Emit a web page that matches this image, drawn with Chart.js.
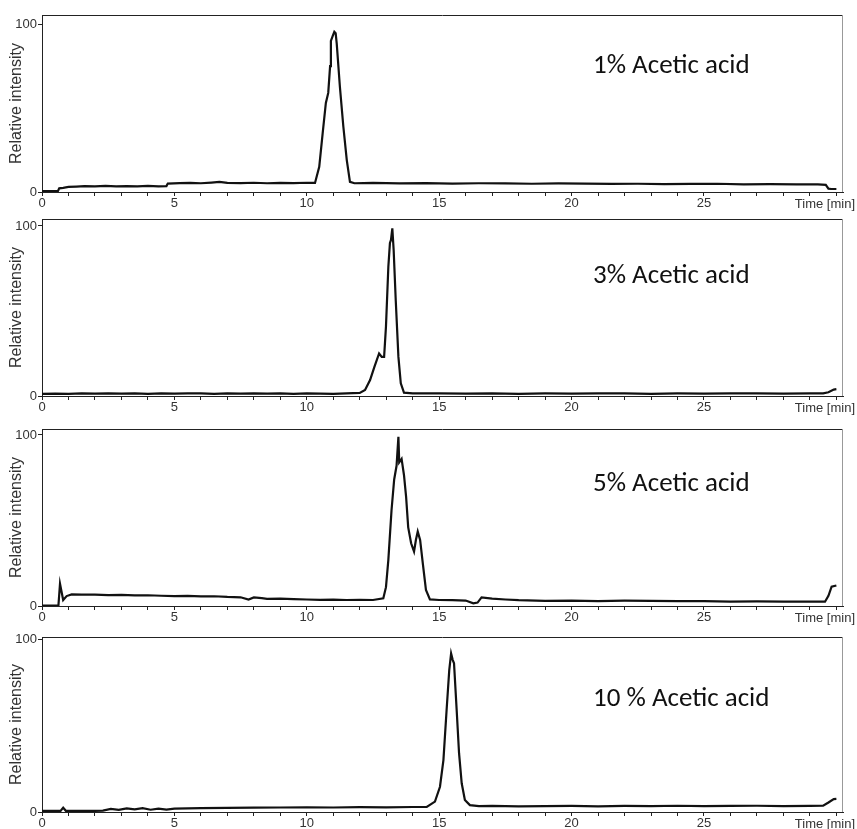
<!DOCTYPE html>
<html>
<head>
<meta charset="utf-8">
<script src="https://cdn.jsdelivr.net/npm/chart.js@4.4.1/dist/chart.umd.min.js"></script>
<style>
  html, body { margin: 0; padding: 0; background: #fff; overflow: hidden; }
  #wrap { position: relative; width: 857px; height: 829px; }
  canvas { position: absolute; left: 0; }
</style>
</head>
<body>
<div id="wrap">
  <canvas id="c1" width="857" height="212" style="top:0px"></canvas>
  <canvas id="c2" width="857" height="212" style="top:204px"></canvas>
  <canvas id="c3" width="857" height="212" style="top:414px"></canvas>
  <canvas id="c4" width="857" height="210" style="top:622px"></canvas>
</div>
<script>
// chromatogrammes - intensité relative en fonction du temps (min)

const labels = ['1% Acetic acid', '3% Acetic acid', '5% Acetic acid', '10 % Acetic acid'];
const xTicks = [0,1,2,3,4,5,6,7,8,9,10,11,12,13,14,15,16,17,18,19,20,21,22,23,24,25,26,27,28,29,30];
const yTicks = [0, 100];

// 1 %
const t1 = [0,0.6,0.65,0.8,1.0,1.3,1.6,2.0,2.4,2.8,3.2,3.6,4.0,4.4,4.7,4.75,5.2,5.6,6.0,6.4,6.7,7.0,7.5,8.0,8.5,9.0,9.5,10.0,10.31,10.47,10.6,10.72,10.81,10.88,10.91,10.98,11.04,11.09,11.13,11.25,11.38,11.51,11.63,11.8,12.5,13.5,14.5,15.5,16.5,17.5,18.5,19.5,20.5,21.5,22.5,23.5,24.5,25.5,26.5,27.5,28.5,29.3,29.6,29.7,29.8,30.0];
const i1 = [0.5,0.5,2.2,2.5,3.0,3.2,3.5,3.3,3.6,3.4,3.5,3.3,3.6,3.4,3.5,5.0,5.3,5.4,5.2,5.6,6.0,5.4,5.3,5.5,5.2,5.4,5.3,5.5,5.4,15,35,53,59,75,90,93,95.4,94.6,88.5,62.7,39,19,6,5.2,5.4,5.1,5.3,5.0,5.2,5.1,4.9,5.1,5.0,4.8,4.9,4.7,4.8,4.9,4.6,4.7,4.5,4.5,4.3,2.0,1.8,1.8];

// 3 %
const t2 = [0,0.5,1.0,1.5,2.0,2.5,3.0,3.5,4.0,4.5,5.0,5.5,6.0,6.5,7.0,7.5,8.0,8.5,9.0,9.5,10.0,10.5,11.0,11.5,12.0,12.2,12.39,12.55,12.73,12.83,12.92,12.99,13.08,13.14,13.18,13.23,13.28,13.36,13.46,13.55,13.67,14.0,15,16,17,18,19,20,21,22,23,24,25,26,27,28,29,29.5,29.7,29.9,30.0];
const i2 = [1.2,1.4,1.3,1.5,1.4,1.6,1.4,1.5,1.3,1.5,1.4,1.6,1.5,1.3,1.5,1.4,1.6,1.4,1.5,1.3,1.6,1.4,1.2,1.6,1.8,3.5,9.4,17,25,23,23,40.8,76,90,91.8,98.6,86,56,23,7.5,2,1.6,1.5,1.4,1.6,1.3,1.5,1.4,1.6,1.5,1.3,1.5,1.4,1.6,1.5,1.4,1.5,1.6,2.2,3.8,4.0];

// 5 %
const t3 = [0,0.62,0.68,0.8,0.93,1.12,1.5,2.0,2.5,3.0,3.5,4.0,4.5,5.0,5.5,6.0,6.5,7.0,7.5,7.8,8.0,8.3,8.5,9.0,9.5,10.0,10.5,11.0,11.5,12.0,12.5,12.89,12.99,13.08,13.2,13.3,13.39,13.46,13.49,13.58,13.67,13.75,13.83,13.94,14.05,14.12,14.19,14.28,14.38,14.5,14.65,15.0,15.5,16.0,16.29,16.45,16.6,17.0,17.5,18,19,20,21,22,23,24,25,26,27,28,29,29.57,29.7,29.82,30.0];
const i3 = [0.2,0.2,13,3.5,5.8,6.8,6.6,6.7,6.4,6.5,6.2,6.3,6.0,5.8,5.9,5.6,5.7,5.3,5.1,3.8,5.0,4.6,4.2,4.3,4.0,3.8,3.6,3.7,3.5,3.6,3.5,4.5,11,27,56,74,82,99,84,86,76.6,64,46,36.7,31.8,38.6,43.5,38.6,25,9.4,3.9,3.5,3.4,3.2,1.6,2.0,5.0,4.3,3.8,3.4,3.0,3.2,2.9,3.1,3.0,2.8,2.9,2.6,2.7,2.5,2.6,2.5,6,11.3,12];

// 10 %
const t4 = [0,0.7,0.8,0.9,1.5,2.0,2.3,2.6,2.9,3.2,3.5,3.8,4.1,4.4,4.7,5.0,6,7,8,9,10,11,12,13,14,14.53,14.84,15.03,15.16,15.28,15.38,15.45,15.51,15.56,15.66,15.75,15.85,15.97,16.16,16.5,17,18,19,20,21,22,23,24,25,26,27,28,29,29.5,29.7,29.9,30.0];
const i4 = [0.6,0.6,2.5,0.7,0.6,0.7,0.8,1.8,1.2,2.1,1.5,2.2,1.3,2.0,1.4,2.0,2.2,2.4,2.5,2.6,2.7,2.6,2.8,2.7,2.9,3.0,6,14.6,30,59,82,91.7,88,86,59,34,16.6,7,4,3.4,3.5,3.3,3.4,3.5,3.3,3.5,3.4,3.6,3.4,3.5,3.6,3.4,3.5,3.6,5.5,7.5,7.6];

Chart.defaults.font.family = '"Liberation Sans", Arial, sans-serif';
Chart.defaults.font.size = 13;
Chart.defaults.color = '#333';

// cadre + étiquette du panneau + "Time [min]"
const decor = {
    id: 'decor',
    afterDraw(chart, args, opts) {
        const ctx = chart.ctx;
        const a = chart.chartArea;
        ctx.save();
        ctx.lineWidth = 1;
        ctx.strokeStyle = '#222';
        ctx.beginPath();
        ctx.moveTo(a.left, a.top + 0.5);
        ctx.lineTo(a.right, a.top + 0.5);
        ctx.stroke();
        ctx.strokeStyle = '#999';
        ctx.beginPath();
        ctx.moveTo(a.right - 0.5, a.top);
        ctx.lineTo(a.right - 0.5, a.bottom);
        ctx.stroke();

        ctx.fillStyle = '#111';
        ctx.font = '27px Carlito, Lato, sans-serif';
        ctx.textBaseline = 'alphabetic';
        ctx.fillText(opts.label, 593, a.top + opts.labelDy);

        ctx.fillStyle = '#333';
        ctx.font = '13px "Liberation Sans", Arial, sans-serif';
        ctx.textAlign = 'right';
        ctx.fillText('Time [min]', 855, a.bottom + 16);
        ctx.restore();
    }
};

function montarPainel(id, tempos, valores, yMax, label, labelDy) {
    const pontos = tempos.map((t, k) => ({ x: t, y: valores[k] }));
    return new Chart(document.getElementById(id), {
        type: 'line',
        data: {
            datasets: [{
                data: pontos,
                borderColor: '#111',
                borderWidth: 2.2,
                pointRadius: 0,
                tension: 0,
                fill: false
            }]
        },
        plugins: [decor],
        options: {
            responsive: false,
            animation: false,
            events: [],
            layout: { padding: { top: 15, right: 14, left: 0, bottom: 0 } },
            plugins: {
                legend: { display: false },
                tooltip: { enabled: false },
                decor: { label: label, labelDy: labelDy }
            },
            scales: {
                x: {
                    type: 'linear',
                    min: 0,
                    max: 30.25,
                    afterBuildTicks: (s) => { s.ticks = xTicks.map(v => ({ value: v })); },
                    afterFit: (s) => { s.height = 20; },
                    ticks: {
                        autoSkip: false,
                        maxRotation: 0,
                        padding: 0,
                        color: '#333',
                        callback: (v) => (v % 5 === 0 && v < 30) ? String(v) : ''
                    },
                    grid: { drawOnChartArea: false, drawTicks: true, tickLength: 4, color: '#222' },
                    border: { color: '#222', width: 1 }
                },
                y: {
                    min: 0,
                    max: yMax,
                    afterBuildTicks: (s) => { s.ticks = yTicks.map(v => ({ value: v })); },
                    afterFit: (s) => { s.width = 42; },
                    ticks: { padding: 1, color: '#333' },
                    grid: { drawOnChartArea: false, drawTicks: true, tickLength: 4, color: '#222' },
                    border: { color: '#222', width: 1 },
                    title: {
                        display: true,
                        text: 'Relative intensity',
                        color: '#333',
                        font: { size: 16 },
                        padding: { top: 7, bottom: 0 }
                    }
                }
            }
        }
    });
}

montarPainel('c1', t1, i1, 105.4, labels[0], 58);
montarPainel('c2', t2, i2, 104.1, labels[1], 64);
montarPainel('c3', t3, i3, 103.5, labels[2], 62);
montarPainel('c4', t4, i4, 101.2, labels[3], 69);
</script>
</body>
</html>
